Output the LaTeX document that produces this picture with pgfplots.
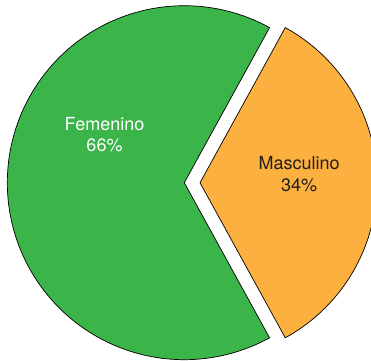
\documentclass[border=0pt]{standalone}
\usepackage{fontspec}
\setmainfont{TeX Gyre Heros}
\usepackage{pgfplots}
\usepackage{pgfplotstable}
\pgfplotsset{compat=1.18}
\definecolor{fem}{HTML}{3BB54A}
\definecolor{mas}{HTML}{FBB040}
\definecolor{txt}{HTML}{231F20}
\pgfplotstableread{
label value
Femenino 66
Masculino 34
}\piedata
\begin{document}
\begin{tikzpicture}
\pgfplotstablegetelem{0}{value}\of\piedata \let\vF\pgfplotsretval
\pgfplotstablegetelem{1}{value}\of\piedata \let\vM\pgfplotsretval
\pgfmathsetmacro\half{\vM/100*180}
\pgfmathsetmacro\mA{-\half}
\pgfmathsetmacro\mB{\half}
\pgfmathsetmacro\fA{\half}
\pgfmathsetmacro\fB{\half+\vF/100*360}
\begin{axis}[x=1pt,y=1pt,xmin=0,xmax=371,ymin=0,ymax=360,
  ticks=none,axis line style={draw=none},clip=true]
\addplot[fill=fem,draw=black,line width=0.7pt,line join=miter,
  domain=\fA:\fB,samples=160,variable=\t]
  ({184.3+177*cos(t)},{177.3+177*sin(t)}) -- (axis cs:184.3,177.3) -- cycle;
\addplot[fill=mas,draw=black,line width=0.7pt,line join=miter,
  domain=\mA:\mB,samples=100,variable=\t]
  ({200+177*cos(t)},{177.3+177*sin(t)}) -- (axis cs:200,177.3) -- cycle;
\node[anchor=base,text=white,font=\fontsize{18}{21.5}\selectfont] at (axis cs:104.5,229.7) {Femenino};
\node[anchor=base,text=white,font=\fontsize{18}{21.5}\selectfont] at (axis cs:104.5,208.3) {\vF\%};
\node[anchor=base,text=txt,font=\fontsize{18}{21.5}\selectfont] at (axis cs:299.2,191) {Masculino};
\node[anchor=base,text=txt,font=\fontsize{18}{21.5}\selectfont] at (axis cs:299.2,169) {\vM\%};
\end{axis}
\end{tikzpicture}
\end{document}
